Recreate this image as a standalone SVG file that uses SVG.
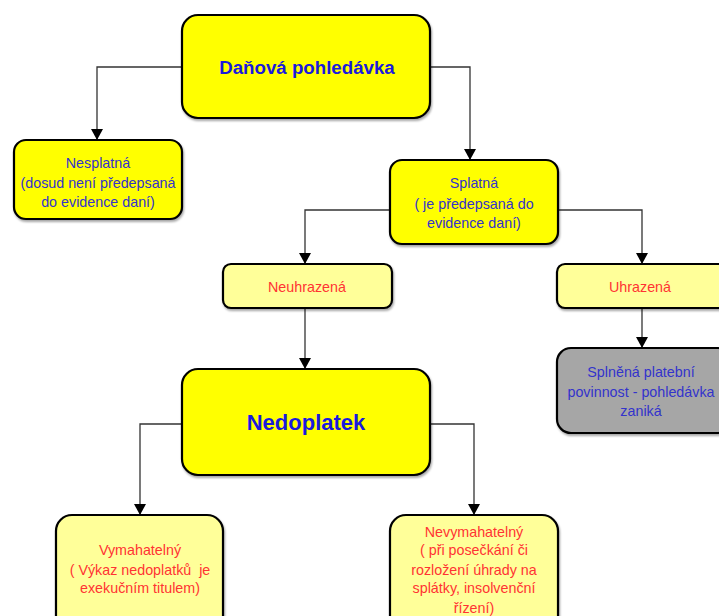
<svg xmlns="http://www.w3.org/2000/svg" width="719" height="616" viewBox="0 0 719 616">
<defs>
<marker id="arr" markerWidth="12" markerHeight="12" refX="11" refY="6" orient="auto" markerUnits="userSpaceOnUse">
<path d="M0,0 L11,6 L0,12 Z" fill="#000"/>
</marker>
<filter id="sh" x="-10%" y="-10%" width="120%" height="130%">
<feDropShadow dx="1" dy="2" stdDeviation="1.2" flood-color="#000" flood-opacity="0.35"/>
</filter>
</defs>
<style>
.b{stroke:#000;stroke-width:2.2;filter:url(#sh)}
.y{fill:#ffff00}
.ly{fill:#ffff99}
.g{fill:#a6a6a6}
.c{fill:none;stroke:#333;stroke-width:1.3;marker-end:url(#arr)}
text{font-family:"Liberation Sans",Arial,sans-serif;text-anchor:middle}
.big{font-weight:bold;fill:#1a1add}
.s{font-size:14.3px;fill:#3333cc}
.r{font-size:14.3px;fill:#ff3333}
</style>
<rect width="719" height="616" fill="#fff"/>
<g id="connectors">
<path class="c" d="M182,67 H97 V140"/>
<path class="c" d="M430,67 H470 V160"/>
<path class="c" d="M390,210 H305 V264"/>
<path class="c" d="M558,210 H642 V264"/>
<path class="c" d="M642,308 V348"/>
<path class="c" d="M305,308 V369"/>
<path class="c" d="M182,424 H140 V515"/>
<path class="c" d="M429,424 H474 V515"/>
</g>
<g id="danova">
<rect class="b y" x="182" y="15" width="248" height="103" rx="16"/>
<text class="big" x="307" y="74" font-size="18.7">Daňová pohledávka</text>
</g>
<g id="nesplatna">
<rect class="b y" x="14" y="140" width="168" height="79" rx="12"/>
<text class="s" x="98" y="168">Nesplatná</text>
<text class="s" x="98" y="188">(dosud není předepsaná</text>
<text class="s" x="98" y="207">do evidence daní)</text>
</g>
<g id="splatna">
<rect class="b y" x="390" y="160" width="168" height="84" rx="12"/>
<text class="s" x="474" y="188">Splatná</text>
<text class="s" x="474" y="209">( je předepsaná do</text>
<text class="s" x="474" y="228">evidence daní)</text>
</g>
<g id="neuhrazena">
<rect class="b ly" x="223" y="264" width="169" height="44" rx="8"/>
<text class="r" x="307" y="292">Neuhrazená</text>
</g>
<g id="uhrazena">
<rect class="b ly" x="557" y="264" width="175" height="44" rx="8"/>
<text class="r" x="640" y="292">Uhrazená</text>
</g>
<g id="splnena">
<rect class="b g" x="557" y="348" width="175" height="85" rx="14"/>
<text class="s" x="641" y="377">Splněná platební</text>
<text class="s" x="641" y="397">povinnost - pohledávka</text>
<text class="s" x="641" y="416">zaniká</text>
</g>
<g id="nedoplatek">
<rect class="b y" x="182" y="369" width="248" height="106" rx="16"/>
<text class="big" x="306" y="430" font-size="22">Nedoplatek</text>
</g>
<g id="vymahatelny">
<rect class="b ly" x="56" y="515" width="167" height="120" rx="16"/>
<text class="r" x="140" y="555">Vymahatelný</text>
<text class="r" x="140" y="575">( Výkaz nedoplatků&#160; je</text>
<text class="r" x="140" y="593">exekučním titulem)</text>
</g>
<g id="nevymahatelny">
<rect class="b ly" x="390" y="515" width="168" height="120" rx="16"/>
<text class="r" x="474" y="537">Nevymahatelný</text>
<text class="r" x="474" y="555">( při posečkání či</text>
<text class="r" x="474" y="575">rozložení úhrady na</text>
<text class="r" x="474" y="593">splátky, insolvenční</text>
<text class="r" x="474" y="613">řízení)</text>
</g>
</svg>
